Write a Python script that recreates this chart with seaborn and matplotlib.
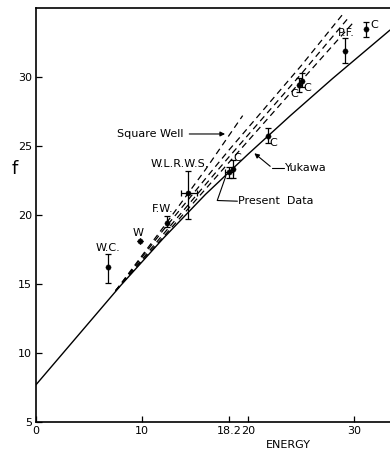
import matplotlib
matplotlib.use("Agg")
import matplotlib.pyplot as plt
import numpy as np
import pandas as pd
import seaborn as sns

sns.set_theme(style="ticks")
plt.rcParams["font.family"] = ["DejaVu Sans"]
plt.rcParams["text.color"] = "black"
plt.rcParams["axes.labelcolor"] = "black"

# Yukawa curve (solid)
yukawa_energy = [0, 4, 8, 12, 16, 20, 24, 28, 33.4]
yukawa_f = [7.7, 11.3, 14.9, 18.3, 21.5, 24.4, 27.2, 29.9, 33.4]

# square well curves (dashed)
sw_a_energy = [7.5, 12, 18.2, 25, 29.0]
sw_a_f = [14.5, 18.9, 24.7, 30.8, 34.6]
sw_b_energy = [7.5, 12, 18.2, 25, 29.6]
sw_b_f = [14.5, 18.6, 24.2, 30.2, 34.4]
sw_c_energy = [7.5, 12, 18.2, 25, 30.0]
sw_c_f = [14.5, 18.4, 23.8, 29.7, 34.0]
sw_short_energy = [7.5, 12, 16, 19.5]
sw_short_f = [14.5, 19.1, 23.3, 27.2]

# measured points
pt_energy = [6.8, 9.8, 12.4, 14.3, 18.2, 18.6, 21.9, 24.8, 25.1, 29.2, 31.1]
pt_f = [16.2, 18.1, 19.4, 21.6, 23.1, 23.35, 25.7, 29.4, 29.7, 31.9, 33.5]
pt_f_low = [15.1, 18.1, 19.1, 19.7, 22.7, 22.7, 25.2, 28.9, 29.3, 31.0, 32.9]
pt_f_high = [17.2, 18.1, 19.9, 23.2, 23.5, 24.0, 26.3, 29.9, 30.3, 32.8, 34.0]
pt_e_low = [6.8, 9.8, 12.4, 13.7, 17.8, 18.6, 21.9, 24.8, 25.1, 29.2, 31.1]
pt_e_high = [6.8, 9.8, 12.4, 15.2, 18.6, 18.6, 21.9, 24.8, 25.1, 29.2, 31.1]

# label positions for the points
lab_text = ["W.C.", "W", "F.W.", "W.L.R.W.S.", "C", "C", "C", "C", "P.F.", "C"]
lab_energy = [6.8, 9.6, 12.0, 13.6, 19.0, 22.4, 24.4, 25.6, 29.3, 31.9]
lab_f = [17.6, 18.7, 20.4, 23.7, 24.1, 25.2, 28.8, 29.2, 33.2, 33.8]

xticks = [0, 10, 18.2, 20, 30]
xtick_labels = ["0", "10", "18.2", "20", "30"]
yticks = [5, 10, 15, 20, 25, 30]

fig = plt.figure(figsize=(3.9, 4.53), dpi=100)
ax = fig.add_axes([0.0923, 0.0684, 0.9077, 0.914])

sns.lineplot(x=yukawa_energy, y=yukawa_f, color="black", linewidth=1.0, ax=ax)
for e, f in [(sw_a_energy, sw_a_f), (sw_b_energy, sw_b_f),
             (sw_c_energy, sw_c_f), (sw_short_energy, sw_short_f)]:
    sns.lineplot(x=e, y=f, color="black", linewidth=0.9, ax=ax,
                 linestyle=(0, (5, 3.5)))

pts = pd.DataFrame({"energy": pt_energy, "f": pt_f})
yerr = np.array([np.subtract(pt_f, pt_f_low), np.subtract(pt_f_high, pt_f)])
xerr = np.array([np.subtract(pt_energy, pt_e_low), np.subtract(pt_e_high, pt_energy)])
ax.errorbar(pt_energy, pt_f, yerr=yerr, xerr=xerr, fmt="none", ecolor="black",
            elinewidth=0.9, capsize=2, capthick=0.9)
sns.scatterplot(data=pts, x="energy", y="f", color="black", s=14,
                edgecolor="black", ax=ax, zorder=5)

for t, e, f in zip(lab_text, lab_energy, lab_f):
    ax.text(e, f, t, fontsize=8, ha="center", va="center")

# annotations with leaders
ax.text(13.9, 25.87, "Square Well", fontsize=8, ha="right", va="center")
ax.annotate("", xy=(18.1, 25.87), xytext=(14.2, 25.87),
            arrowprops=dict(arrowstyle="-|>", color="black", lw=0.8,
                            mutation_scale=7))
ax.text(23.5, 23.4, "Yukawa", fontsize=8, ha="left", va="center")
ax.plot([23.4, 22.3], [23.4, 23.4], color="black", lw=0.8)
ax.annotate("", xy=(20.4, 24.6), xytext=(22.3, 23.4),
            arrowprops=dict(arrowstyle="-|>", color="black", lw=0.8,
                            mutation_scale=7))
ax.text(19.1, 21.0, "Present  Data", fontsize=8, ha="left", va="center")
ax.plot([19.0, 17.1, 17.9], [21.0, 21.05, 22.8], color="black", lw=0.8)

ax.set_xlim(0, 33.4)
ax.set_ylim(5, 35)
ax.set_xticks(xticks)
ax.set_xticklabels(xtick_labels)
ax.set_yticks(yticks)
ax.tick_params(direction="in", length=4, width=0.9, labelsize=8, colors="black", pad=3)
for side in ["left", "bottom", "top"]:
    ax.spines[side].set_linewidth(1.2)
    ax.spines[side].set_color("black")
ax.spines["right"].set_visible(False)

ax.set_ylabel("f", fontsize=13, rotation=0)
ax.yaxis.set_label_coords(-0.06, 0.59)
ax.set_xlabel("ENERGY", fontsize=8)
ax.xaxis.set_label_coords(0.712, -0.043)

fig.savefig("out.png", dpi=100, facecolor="white")
